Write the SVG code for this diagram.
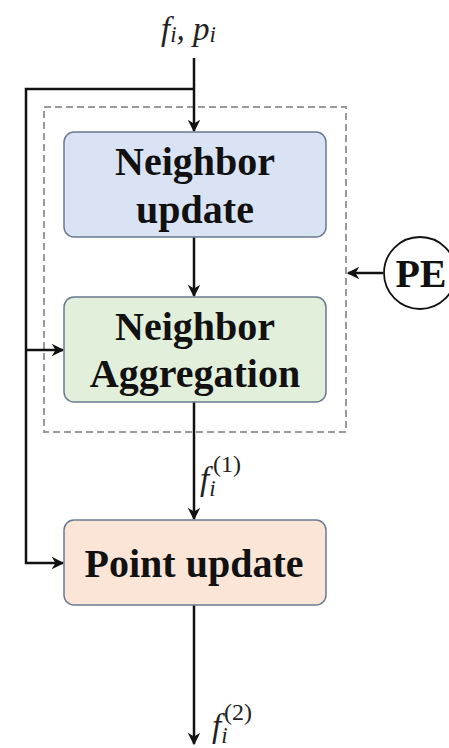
<svg xmlns="http://www.w3.org/2000/svg" width="449" height="748" viewBox="0 0 449 748">
<style>
.box{stroke:#6a7a92;stroke-width:1.5}
.t{font-family:"Liberation Serif",serif;font-weight:bold;font-size:40px;fill:#111;text-anchor:middle}
.m{font-family:"Liberation Serif",serif;font-style:italic;fill:#222}
.sup{font-family:"Liberation Serif",serif;fill:#222;font-size:24px}
.ln{stroke:#111;stroke-width:2.5;fill:none}
</style>
<defs>
<marker id="ah" viewBox="0 0 10 10" refX="9" refY="5" markerWidth="5" markerHeight="5" orient="auto" markerUnits="strokeWidth">
<path d="M0,0 L10,5 L0,10 L3,5 z" fill="#111"/>
</marker>
</defs>
<rect x="0" y="0" width="449" height="748" fill="#fff"/>
<g id="group-dashed">
<rect x="44" y="107" width="302" height="325" fill="none" stroke="#9a9a9a" stroke-width="2" stroke-dasharray="7,4"/>
</g>
<g id="connectors">
<line class="ln" x1="194" y1="58" x2="194" y2="131" marker-end="url(#ah)"/>
<polyline class="ln" points="194,89 26,89 26,563 63,563" marker-end="url(#ah)"/>
<line class="ln" x1="26" y1="350" x2="63" y2="350" marker-end="url(#ah)"/>
<line class="ln" x1="194" y1="237" x2="194" y2="296" marker-end="url(#ah)"/>
<line class="ln" x1="194" y1="402" x2="194" y2="519" marker-end="url(#ah)"/>
<line class="ln" x1="194" y1="605" x2="194" y2="744" marker-end="url(#ah)"/>
<line class="ln" x1="383" y1="273" x2="348" y2="273" marker-end="url(#ah)"/>
</g>
<g id="node-neighbor-update">
<rect class="box" x="64" y="132" width="262" height="105" rx="10" fill="#dae3f3"/>
<text class="t" x="195" y="175">Neighbor</text>
<text class="t" x="195" y="223">update</text>
</g>
<g id="node-neighbor-aggregation">
<rect class="box" x="64" y="297" width="262" height="105" rx="10" fill="#e2efda"/>
<text class="t" x="195" y="340">Neighbor</text>
<text class="t" x="195" y="387">Aggregation</text>
</g>
<g id="node-point-update">
<rect class="box" x="64" y="520" width="262" height="85" rx="10" fill="#fbe5d6"/>
<text class="t" x="194" y="577">Point update</text>
</g>
<g id="node-pe">
<circle cx="420" cy="273" r="36" fill="#fff" stroke="#111" stroke-width="1.8"/>
<text class="t" x="421" y="287" style="font-size:40px">PE</text>
</g>
<g id="labels">
<text class="m" x="161" y="40" font-size="33">f<tspan font-size="23" dy="2">i</tspan><tspan dy="-2">, p</tspan><tspan font-size="23" dy="2">i</tspan></text>
<text class="m" x="200" y="490" font-size="33">f<tspan font-size="23" dy="6">i</tspan></text>
<text class="sup" x="213" y="472">(1)</text>
<text class="m" x="212" y="737" font-size="33">f<tspan font-size="23" dy="6">i</tspan></text>
<text class="sup" x="224" y="720">(2)</text>
</g>
</svg>
